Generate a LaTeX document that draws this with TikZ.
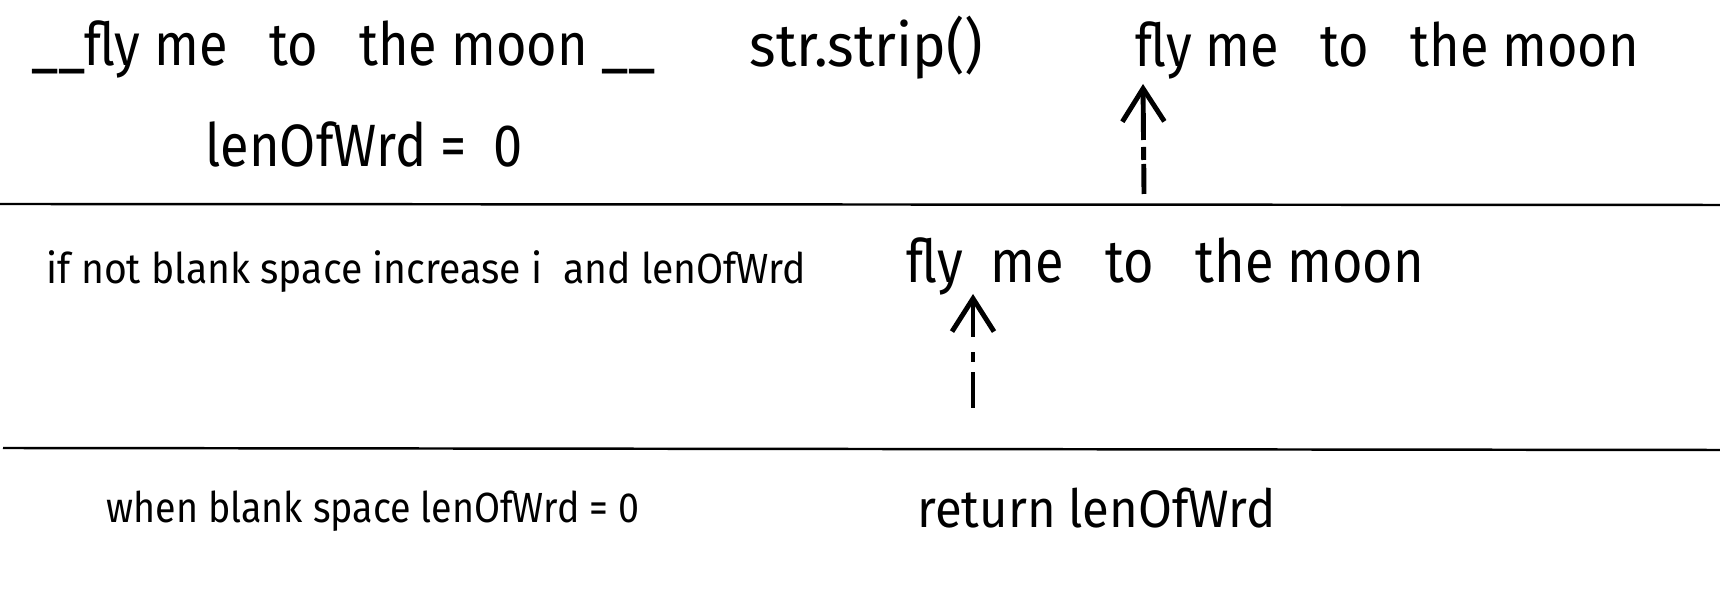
\documentclass[tikz,border=0pt]{standalone}
\usepackage{fontspec}
\setmainfont{Fira Sans}
\usetikzlibrary{arrows.meta}
\begin{document}
\begin{tikzpicture}[x=0.1mm,y=-0.1mm]
	\tikzstyle{big} = [anchor=base west, inner sep=0pt, xscale=0.875, font={\fontsize{17}{20}\selectfont}]
	\tikzstyle{mid} = [anchor=base west, inner sep=0pt, xscale=0.93, font={\fontsize{15}{18}\selectfont}]
	\tikzstyle{small} = [anchor=base west, inner sep=0pt, xscale=0.91, font={\fontsize{12}{14}\selectfont}]
	\tikzstyle{ptr} = [line width=1.4pt, -{Straight Barb[length=3.3mm,width=4.2mm]}]
	\useasboundingbox (0,0) rectangle (1720,601);
	% first step: strip the string
	\node[big] (orig) at (31,66) {\_\_fly me\ \ \ to\ \ \ the moon \_\_};
	\node[big, xscale=1.086] (strip) at (749,67) {str.strip()};
	\node[big] (stripped) at (1135,67) {fly me\ \ \ to\ \ \ the moon};
	\node[big] (len0) at (205,167) {lenOfWrd =\ \ 0};
	\coordinate (h1) at (1143,84);
	\coordinate (t1) at (1144,194);
	\draw[ptr, dash pattern=on 3mm off 0.4mm on 1.3mm off 0.7mm on 8mm] (t1) -- (h1);
	\draw[line width=0.7pt] (0,204) -- (1720,205);
	% second step: count the word
	\node[small, xscale=1.02] (ifnot) at (46,284) {if not blank space increase i\ \ and lenOfWrd};
	\node[big] (scan) at (906,283) {fly\ \ me\ \ \ to\ \ \ the moon};
	\coordinate (h2) at (973,294);
	\coordinate (t2) at (973,408);
	\draw[ptr, dash pattern=on 3.6mm off 1mm on 1mm off 1.5mm on 6mm] (t2) -- (h2);
	\draw[line width=0.7pt] (3,448) -- (1720,450);
	% third step: reset and return
	\node[small, xscale=0.98] (when) at (106,523) {when blank space lenOfWrd = 0};
	\node[mid] (ret) at (917,528) {return lenOfWrd};
\end{tikzpicture}
\end{document}
